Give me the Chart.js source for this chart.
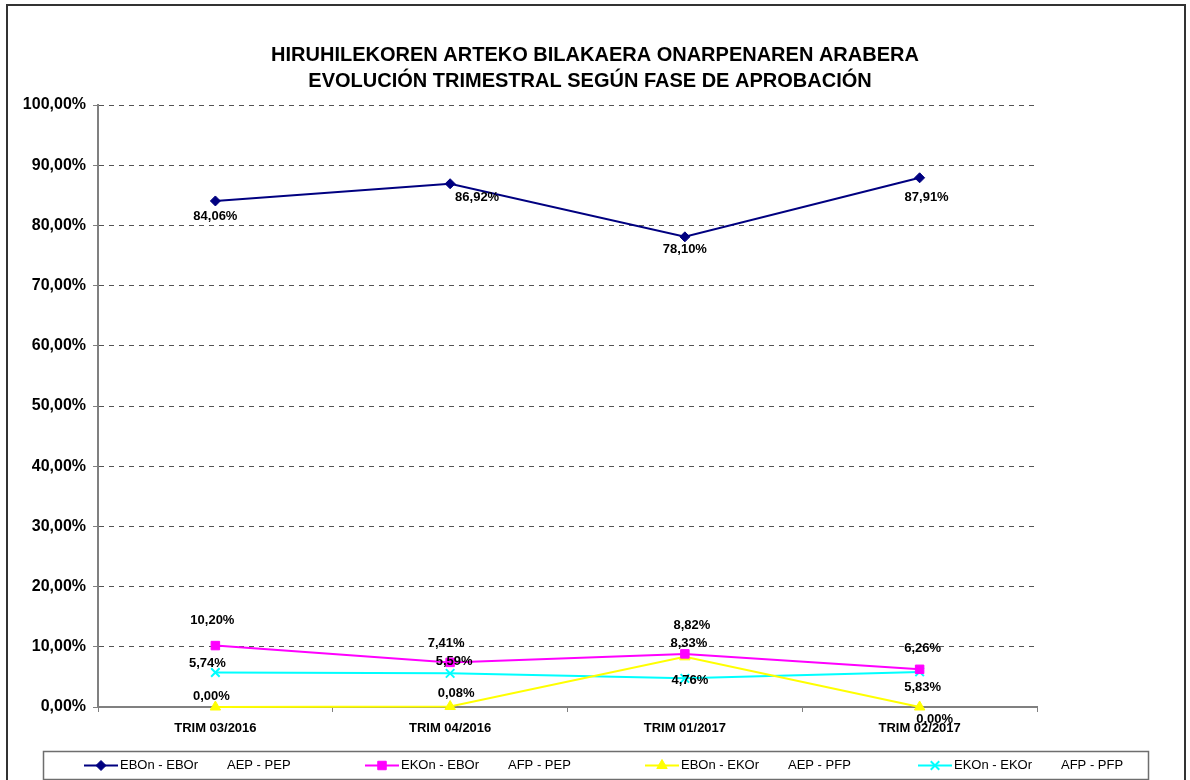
<!DOCTYPE html>
<html>
<head>
<meta charset="utf-8">
<script src="https://cdn.jsdelivr.net/npm/chart.js@4.4.1/dist/chart.umd.min.js"></script>
<style>
  html, body { margin: 0; padding: 0; background: #fff; }
  #wrap { width: 1190px; height: 780px; }
</style>
</head>
<body>
<div id="wrap"><canvas id="trend" width="1190" height="780"></canvas></div>
<script>
// Quarterly evolution by approval phase (Araba)
const TITLE_LINES = [
  'HIRUHILEKOREN ARTEKO BILAKAERA ONARPENAREN ARABERA',
  'EVOLUCIÓN TRIMESTRAL SEGÚN FASE DE APROBACIÓN',
];
const QUARTERS = ['TRIM 03/2016', 'TRIM 04/2016', 'TRIM 01/2017', 'TRIM 02/2017'];
const SERIES_NAMES = ['EBOn - EBOr', 'EKOn - EBOr', 'EBOn - EKOr', 'EKOn - EKOr'];
const SERIES_PHASES = ['AEP - PEP', 'AFP - PEP', 'AEP - PFP', 'AFP - PFP'];

const EBON_EBOR = [84.06, 86.92, 78.10, 87.91];
const EKON_EBOR = [10.20, 7.41, 8.82, 6.26];
const EBON_EKOR = [0.00, 0.08, 8.33, 0.00];
const EKON_EKOR = [5.74, 5.59, 4.76, 5.83];

const Y_MIN = 0;
const Y_MAX = 100;
const Y_STEP = 10;

const FONT = "'Liberation Sans', Arial, sans-serif";

// label placement per point, [dx, dy] from the marker
const LABEL_OFFSETS = [
  [[0, 15], [27, 14], [0, 13], [7, 20]],
  [[-3, -25], [-4, -19], [7, -28], [3, -21]],
  [[-4, -11], [6, -13], [4, -13], [15, 12]],
  [[-8, -9], [4, -12], [5, 2], [3, 16]],
];
const LEGEND_X = [84, 365, 645, 918];

const fmtPct = (v) => v.toFixed(2).replace('.', ',') + '%';

function series(i, values, color, pointStyle, radius) {
  return {
    label: SERIES_NAMES[i] + '   ' + SERIES_PHASES[i],
    name: SERIES_NAMES[i],
    phase: SERIES_PHASES[i],
    data: values,
    borderColor: color,
    backgroundColor: color,
    pointBackgroundColor: color,
    pointBorderColor: color,
    pointStyle: pointStyle,
    pointRadius: radius,
    pointBorderWidth: pointStyle === 'crossRot' ? 2 : 1,
    borderWidth: 2,
    tension: 0,
    clip: false,
  };
}

const chromePlugin = {
  id: 'chrome',
  beforeDraw(chart) {
    const { ctx } = chart;
    ctx.save();
    ctx.fillStyle = '#fff';
    ctx.fillRect(0, 0, chart.width, chart.height);
    ctx.restore();
  },
  afterDraw(chart) {
    const { ctx } = chart;
    ctx.save();
    // outer frame
    ctx.strokeStyle = '#333';
    ctx.lineWidth = 2;
    ctx.strokeRect(7, 5, 1178, 820);

    // title
    ctx.fillStyle = '#000';
    ctx.font = 'bold 20px ' + FONT;
    ctx.textAlign = 'center';
    ctx.textBaseline = 'middle';
    ctx.fillText(TITLE_LINES[0], 595, 55);
    ctx.fillText(TITLE_LINES[1], 590, 81);

    // point labels
    ctx.font = 'bold 13px ' + FONT;
    chart.data.datasets.forEach((ds, di) => {
      const meta = chart.getDatasetMeta(di);
      meta.data.forEach((pt, pi) => {
        const off = LABEL_OFFSETS[di][pi];
        ctx.fillText(fmtPct(ds.data[pi]), pt.x + off[0], pt.y + off[1]);
      });
    });

    // legend box
    ctx.strokeStyle = '#6e6e6e';
    ctx.lineWidth = 1.5;
    ctx.strokeRect(43.5, 751.5, 1105, 28);
    ctx.textAlign = 'left';
    ctx.font = '13px ' + FONT;
    const ly = 765.5;
    chart.data.datasets.forEach((ds, di) => {
      const x0 = LEGEND_X[di];
      ctx.strokeStyle = ds.borderColor;
      ctx.lineWidth = 2;
      ctx.beginPath();
      ctx.moveTo(x0, ly);
      ctx.lineTo(x0 + 34, ly);
      ctx.stroke();
      ctx.fillStyle = ds.backgroundColor;
      ctx.strokeStyle = ds.borderColor;
      ctx.lineWidth = ds.pointBorderWidth;
      Chart.helpers.drawPoint(ctx, { pointStyle: ds.pointStyle, radius: ds.pointRadius, borderWidth: ds.pointBorderWidth, rotation: 0 }, x0 + 17, ly);
      ctx.fillStyle = '#000';
      ctx.fillText(ds.name, x0 + 36, ly);
      ctx.fillText(ds.phase, x0 + 143, ly);
    });
    ctx.restore();
  },
};

new Chart(document.getElementById('trend'), {
  type: 'line',
  plugins: [chromePlugin],
  data: {
    labels: QUARTERS,
    datasets: [
      series(0, EBON_EBOR, '#000080', 'rectRot', 5),
      series(1, EKON_EBOR, '#ff00ff', 'rect', 6),
      series(2, EBON_EKOR, '#ffff00', 'triangle', 6),
      series(3, EKON_EKOR, '#00ffff', 'crossRot', 6),
    ],
  },
  options: {
    responsive: false,
    animation: false,
    layout: { padding: { left: 0, top: 105, right: 153, bottom: 0 } },
    plugins: {
      legend: { display: false },
      title: { display: false },
      tooltip: { enabled: false },
    },
    scales: {
      x: {
        type: 'category',
        offset: true,
        afterFit: (s) => { s.height = 73; },
        grid: { display: true, drawOnChartArea: false, offset: true, tickLength: 5, color: '#808080', lineWidth: 1 },
        border: { display: true, color: '#808080', width: 2 },
        ticks: { color: '#000', font: { family: FONT, size: 13, weight: 'bold' }, padding: 9, maxRotation: 0 },
      },
      y: {
        min: Y_MIN,
        max: Y_MAX,
        afterFit: (s) => { s.width = 98; },
        grid: { color: '#555', lineWidth: 1, tickLength: 5, tickColor: '#808080' },
        border: { display: true, color: '#808080', width: 2, dash: [5, 5] },
        ticks: {
          stepSize: Y_STEP,
          color: '#000',
          padding: 7,
          font: { family: FONT, size: 16, weight: 'bold' },
          callback: (v) => fmtPct(v),
        },
      },
    },
  },
});
</script>
</body>
</html>
